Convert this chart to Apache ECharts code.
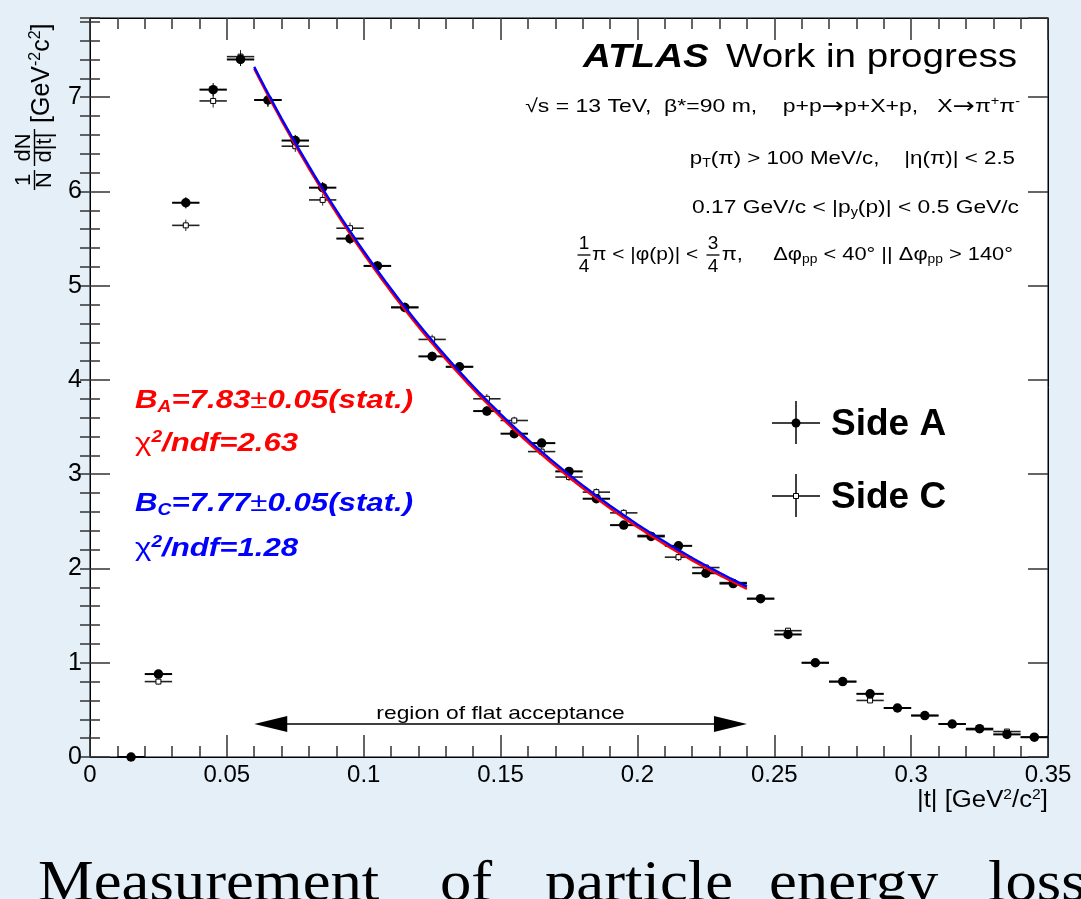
<!DOCTYPE html>
<html>
<head>
<meta charset="utf-8">
<script src="https://cdn.jsdelivr.net/npm/echarts@6/dist/echarts.min.js"></script>
<style>
  html, body { margin: 0; padding: 0; background: #e4eff7; }
  #chart { width: 1081px; height: 899px; }
</style>
</head>
<body>
<div id="chart"></div>
<script>
// |t| bin centres [GeV^2/c^2]
const tBins = [0.015, 0.025, 0.035, 0.045, 0.055, 0.065, 0.075, 0.085, 0.095, 0.105,
               0.115, 0.125, 0.135, 0.145, 0.155, 0.165, 0.175, 0.185, 0.195, 0.205,
               0.215, 0.225, 0.235, 0.245, 0.255, 0.265, 0.275, 0.285, 0.295, 0.305,
               0.315, 0.325, 0.335, 0.345];
// 1/N dN/d|t| for the forward proton detected on side A and side C
const sideA = [0.00, 0.88, 5.88, 7.08, 7.40, 6.97, 6.54, 6.04, 5.50, 5.21,
               4.77, 4.25, 4.14, 3.67, 3.43, 3.33, 3.03, 2.74, 2.46, 2.34,
               2.24, 1.95, 1.84, 1.68, 1.30, 1.00, 0.80, 0.67, 0.52, 0.44,
               0.35, 0.30, 0.24, 0.21];
const sideC = [0.00, 0.80, 5.64, 6.96, 7.43, 6.97, 6.48, 5.91, 5.61, 5.21,
               4.77, 4.43, 4.14, 3.80, 3.57, 3.24, 2.97, 2.81, 2.59, 2.35,
               2.12, 2.01, 1.85, 1.68, 1.34, 1.00, 0.80, 0.60, 0.52, 0.44,
               0.35, 0.29, 0.27, 0.21];
// statistical uncertainties
const errA = [0.01, 0.03, 0.06, 0.07, 0.07, 0.07, 0.06, 0.06, 0.06, 0.05,
              0.05, 0.05, 0.05, 0.05, 0.04, 0.04, 0.04, 0.04, 0.04, 0.04,
              0.04, 0.03, 0.03, 0.03, 0.03, 0.03, 0.02, 0.02, 0.02, 0.02,
              0.02, 0.02, 0.02, 0.02];
const errC = [0.01, 0.03, 0.06, 0.07, 0.07, 0.07, 0.06, 0.06, 0.06, 0.05,
              0.05, 0.05, 0.05, 0.05, 0.04, 0.04, 0.04, 0.04, 0.04, 0.04,
              0.04, 0.03, 0.03, 0.03, 0.03, 0.03, 0.02, 0.02, 0.02, 0.02,
              0.02, 0.02, 0.02, 0.02];
const binHalfWidth = 0.005;

// exponential fits N0 * exp(-B|t|) over the flat-acceptance region
const fitRange = [0.06, 0.24];
const slopeA = 7.83, slopeAErr = 0.05, chi2A = 2.63, normA = 11.68;
const slopeC = 7.77, slopeCErr = 0.05, chi2C = 1.28, normC = 11.67;

// axis ranges
const xRange = [0, 0.35];
const yRange = [0, 7.84];
const flatLevel = 0.35;

const SANS = "'Liberation Sans', Arial, Helvetica, sans-serif";
const SERIF = "'Liberation Serif', 'Times New Roman', serif";

function fitCurve(norm, slope) {
  const pts = [];
  const n = 90;
  for (let i = 0; i <= n; i++) {
    const t = fitRange[0] + (fitRange[1] - fitRange[0]) * i / n;
    pts.push([t, norm * Math.exp(-slope * t)]);
  }
  return pts;
}

function fontOf(size, bold, italic, family) {
  return { fontSize: size, fontWeight: bold ? 'bold' : 'normal',
           fontStyle: italic ? 'italic' : 'normal', fontFamily: family || SANS };
}

// text element with sub/superscript support
function T(x, y, text, o) {
  o = o || {};
  const size = o.size || 19;
  const base = fontOf(size, o.bold, o.italic, o.family);
  const small = Math.round(size * 0.62);
  const rich = {
    sub: Object.assign({}, base, { fontSize: small, padding: [Math.round(size * 0.55), 0, 0, 0] }),
    sup: Object.assign({}, base, { fontSize: small, padding: [0, 0, Math.round(size * 0.5), 0] }),
    up: Object.assign({}, base, { fontWeight: 'normal', fontStyle: 'normal' }),
    arr: Object.assign({}, base, { fontFamily: "'DejaVu Sans', sans-serif", fontSize: Math.round(size * 1.15) })
  };
  const align = o.align || 'left';
  const valign = o.valign || 'middle';
  return {
    type: 'text', x: x, y: y, scaleX: o.sx || 1, z: 100,
    style: Object.assign({
      text: text, fill: o.color || '#000',
      align: align, textAlign: align, verticalAlign: valign, textVerticalAlign: valign,
      rich: rich
    }, base)
  };
}

function L(x1, y1, x2, y2, w, c) {
  return { type: 'line', z: 100, shape: { x1: x1, y1: y1, x2: x2, y2: y2 },
           style: { stroke: c || '#000', lineWidth: w || 1.5 } };
}

// stacked fraction
function frac(cx, cy, num, den, size, barW) {
  return [
    T(cx, cy - 11, num, { size: size, align: 'center' }),
    L(cx - barW / 2, cy, cx + barW / 2, cy, 1.3),
    T(cx, cy + 12, den, { size: size, align: 'center' })
  ];
}

function errorBars(color, width) {
  return function (params, api) {
    const t = api.value(0), y = api.value(1), e = api.value(2);
    const l = api.coord([t - binHalfWidth, y]);
    const r = api.coord([t + binHalfWidth, y]);
    const lo = api.coord([t, y - e]);
    const hi = api.coord([t, y + e]);
    return {
      type: 'group',
      children: [
        { type: 'line', shape: { x1: l[0], y1: l[1], x2: r[0], y2: r[1] },
          style: { stroke: color, lineWidth: width } },
        { type: 'line', shape: { x1: lo[0], y1: lo[1], x2: hi[0], y2: hi[1] },
          style: { stroke: color, lineWidth: 1 } }
      ]
    };
  };
}

const dataA = tBins.map((t, i) => [t, sideA[i], errA[i]]);
const dataC = tBins.map((t, i) => [t, sideC[i], errC[i]]);

const tickStyle = { color: '#333', width: 1.5 };
const xBase = {
  type: 'value', min: xRange[0], max: xRange[1], interval: 0.05,
  splitLine: { show: false },
  axisLine: { show: true, onZero: false, lineStyle: { color: '#000', width: 1 } },
  axisTick: { show: true, inside: true, length: 22, lineStyle: tickStyle },
  minorTick: { show: true, splitNumber: 5, length: 11, lineStyle: tickStyle },
  minorSplitLine: { show: false }
};
const yMajor = {
  type: 'value', min: yRange[0], max: yRange[1], interval: 1,
  splitLine: { show: false },
  axisLine: { show: true, onZero: false, lineStyle: { color: '#000', width: 1 } },
  axisTick: { show: true, inside: true, length: 20, lineStyle: tickStyle }
};
const yMinor = {
  type: 'value', min: yRange[0], max: yRange[1], interval: 0.2,
  splitLine: { show: false },
  axisLine: { show: false },
  axisLabel: { show: false },
  axisTick: { show: true, inside: true, length: 10, lineStyle: tickStyle }
};

const graphics = [];

// y-axis title, rotated to read upwards
graphics.push({
  type: 'group', x: 52, y: 193, rotation: Math.PI / 2,
  children: [
    T(13, -28, '1', { size: 22, align: 'center' }),
    L(3, -17.5, 23, -17.5, 1.4),
    T(13, -7, 'N', { size: 22, align: 'center' }),
    T(45.5, -28, 'dN', { size: 22, align: 'center' }),
    L(27, -17.5, 64, -17.5, 1.4),
    T(45.5, -7, 'd|t|', { size: 22, align: 'center' }),
    T(70, -10, '[GeV{sup|-2}c{sup|2}]', { size: 25 })
  ]
});

// header
graphics.push(T(583, 58, 'ATLAS', { size: 33, bold: true, italic: true, sx: 1.17 }));
graphics.push(T(1017, 58, 'Work in progress', { size: 33, align: 'right', sx: 1.17 }));
graphics.push(T(1020, 107, '√s = 13 TeV,  β*=90 m,    p+p{arr|→}p+X+p,   X{arr|→}π{sup|+}π{sup|-}', { size: 19, align: 'right', sx: 1.21 }));
graphics.push(T(1015, 159, 'p{sub|T}(π) > 100 MeV/c,    |η(π)| < 2.5', { size: 19, align: 'right', sx: 1.175 }));
graphics.push(T(1019, 208, '0.17 GeV/c < |p{sub|y}(p)| < 0.5 GeV/c', { size: 19, align: 'right', sx: 1.2 }));
frac(584, 255, '1', '4', 19, 13).forEach(e => graphics.push(e));
graphics.push(T(592, 255, 'π < |φ(p)| <', { size: 19, sx: 1.1 }));
frac(713, 255, '3', '4', 19, 13).forEach(e => graphics.push(e));
graphics.push(T(1013, 255, 'π,     Δφ{sub|pp} < 40° || Δφ{sub|pp} > 140°', { size: 19, align: 'right', sx: 1.15 }));

// fit results
const red = '#ff0000', blue = '#0000ff';
graphics.push(T(135, 401, 'B{sub|A}=' + slopeA.toFixed(2) + '{up|±}' + slopeAErr.toFixed(2) + '(stat.)',
  { size: 26, bold: true, italic: true, color: red, sx: 1.2 }));
graphics.push(T(135, 444, '{up|χ}{sup|2}/ndf=' + chi2A.toFixed(2),
  { size: 26, bold: true, italic: true, color: red, sx: 1.2 }));
graphics.push(T(135, 504, 'B{sub|C}=' + slopeC.toFixed(2) + '{up|±}' + slopeCErr.toFixed(2) + '(stat.)',
  { size: 26, bold: true, italic: true, color: blue, sx: 1.2 }));
graphics.push(T(135, 549, '{up|χ}{sup|2}/ndf=' + chi2C.toFixed(2),
  { size: 26, bold: true, italic: true, color: blue, sx: 1.2 }));

// legend
graphics.push(L(772, 423, 820, 423, 1.5));
graphics.push(L(796, 401, 796, 444, 1.5));
graphics.push({ type: 'circle', z: 101, shape: { cx: 796, cy: 423, r: 4.5 }, style: { fill: '#000' } });
graphics.push(T(831, 425, 'Side A', { size: 37, bold: true }));
graphics.push(L(772, 496, 820, 496, 1.5));
graphics.push(L(796, 474, 796, 517, 1.5));
graphics.push({ type: 'rect', z: 101, shape: { x: 793.5, y: 493.5, width: 5, height: 5 },
                style: { fill: '#fff', stroke: '#000', lineWidth: 1 } });
graphics.push(T(831, 498, 'Side C', { size: 37, bold: true }));

// x-axis title
graphics.push(T(1048, 801, '|t| [GeV{sup|2}/c{sup|2}]', { size: 23, align: 'right', sx: 1.12 }));

// caption below the figure
const caption = [['Measurement', 38], ['of', 440], ['particle', 545], ['energy', 769], ['loss', 988]];
caption.forEach(w => graphics.push(T(w[1], 885, w[0], { size: 57, family: SERIF, sx: 1.1 })));

const option = {
  backgroundColor: '#e4eff7',
  animation: false,
  grid: {
    left: 90, right: 33, top: 18, bottom: 142,
    show: true, backgroundColor: '#fff', borderColor: '#000', borderWidth: 1,
    containLabel: false, outerBoundsMode: 'none'
  },
  xAxis: [
    Object.assign({}, xBase, {
      position: 'bottom',
      axisLabel: { fontSize: 24, fontFamily: SANS, color: '#000', margin: 6,
                   formatter: v => String(+v.toFixed(3)) }
    }),
    Object.assign({}, xBase, { position: 'top', axisLabel: { show: false } })
  ],
  yAxis: [
    Object.assign({}, yMajor, {
      position: 'left',
      axisLabel: { fontSize: 25, fontFamily: SANS, color: '#000', margin: 8, showMaxLabel: false }
    }),
    Object.assign({}, yMinor, { position: 'left' }),
    Object.assign({}, yMajor, { position: 'right', axisLabel: { show: false } }),
    Object.assign({}, yMinor, { position: 'right' })
  ],
  series: [
    {
      type: 'custom', name: 'Side C bars', renderItem: errorBars('#222', 1.6),
      data: dataC, encode: { x: 0, y: 1 }, z: 2, silent: true
    },
    {
      type: 'scatter', name: 'Side C', data: dataC.map(d => [d[0], d[1]]),
      symbol: 'rect', symbolSize: 5, z: 3,
      itemStyle: { color: '#fff', borderColor: '#000', borderWidth: 1, opacity: 1 }
    },
    {
      type: 'custom', name: 'Side A bars', renderItem: errorBars('#000', 2),
      data: dataA, encode: { x: 0, y: 1 }, z: 4, silent: true
    },
    {
      type: 'scatter', name: 'Side A', data: dataA.map(d => [d[0], d[1]]),
      symbol: 'circle', symbolSize: 9.5, z: 5,
      itemStyle: { color: '#000', opacity: 1 }
    },
    {
      type: 'line', name: 'Fit A', data: fitCurve(normA, slopeA), showSymbol: false,
      lineStyle: { color: red, width: 2.4 }, z: 6, silent: true
    },
    {
      type: 'line', name: 'Fit C', data: fitCurve(normC, slopeC), showSymbol: false,
      lineStyle: { color: blue, width: 2.4 }, z: 7, silent: true
    },
    {
      type: 'custom', name: 'flat acceptance', silent: true, z: 8,
      data: [[fitRange[0], fitRange[1], flatLevel]],
      encode: { x: [0, 1], y: 2 },
      renderItem: function (params, api) {
        const a = api.coord([api.value(0), api.value(2)]);
        const b = api.coord([api.value(1), api.value(2)]);
        const hl = 33, hw = 8;
        return {
          type: 'group',
          children: [
            { type: 'line', shape: { x1: a[0] + 5, y1: a[1], x2: b[0] - 5, y2: b[1] },
              style: { stroke: '#000', lineWidth: 1.5 } },
            { type: 'polygon', shape: { points: [[a[0], a[1]], [a[0] + hl, a[1] - hw], [a[0] + hl, a[1] + hw]] },
              style: { fill: '#000' } },
            { type: 'polygon', shape: { points: [[b[0], b[1]], [b[0] - hl, b[1] - hw], [b[0] - hl, b[1] + hw]] },
              style: { fill: '#000' } },
            { type: 'text', x: (a[0] + b[0]) / 2, y: a[1] - 1, scaleX: 1.2,
              style: { text: 'region of flat acceptance', fontSize: 19, fontFamily: SANS, fill: '#000',
                       align: 'center', textAlign: 'center', verticalAlign: 'bottom', textVerticalAlign: 'bottom' } }
          ]
        };
      }
    }
  ],
  graphic: { elements: graphics }
};

const chart = echarts.init(document.getElementById('chart'), null, { renderer: 'canvas' });
chart.setOption(option);
</script>
</body>
</html>
